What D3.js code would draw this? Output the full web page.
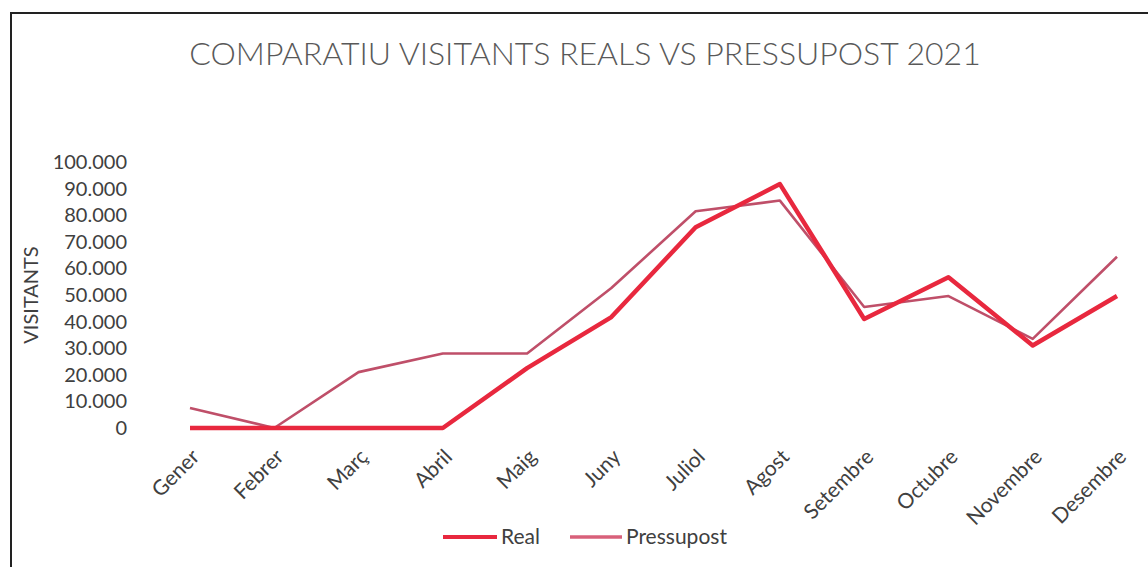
<!DOCTYPE html>
<html><head><meta charset="utf-8">
<script src="https://cdn.jsdelivr.net/npm/d3@7"></script>
<style>body{margin:0;background:#fff}svg{display:block}</style>
</head><body>
<svg id="c" width="1148" height="567"></svg>
<script>
const months = ["Gener","Febrer","Març","Abril","Maig","Juny","Juliol","Agost","Setembre","Octubre","Novembre","Desembre"];
const real = [0,0,0,0,22500,41700,75500,91700,41000,56700,31000,49600];
const pressupost = [7500,0,21000,28000,28000,52600,81500,85500,45500,49600,33500,64400];
const yTicks = [0,10000,20000,30000,40000,50000,60000,70000,80000,90000,100000];

const svg = d3.select("#c");
const font = "Lato, 'Open Sans', sans-serif";
svg.append("rect").attr("x",11).attr("y",13).attr("width",1150).attr("height",600)
  .attr("fill","#fff").attr("stroke","#222").attr("stroke-width",2);

const x = d3.scalePoint().domain(months).range([190,1117]);
const y = d3.scaleLinear().domain([0,100000]).range([428,162]);

svg.append("text").attr("x",585).attr("y",65).attr("text-anchor","middle")
  .attr("font-family",font).attr("font-weight",300).attr("font-size",32).attr("fill","#595959")
  .text("COMPARATIU VISITANTS REALS VS PRESSUPOST 2021");

const fmt = v => v===0 ? "0" : d3.format(",")(v).replace(/,/g,".");
const ya = svg.append("g").attr("transform","translate(135,0)")
  .call(d3.axisLeft(y).tickValues(yTicks).tickFormat(fmt).tickSize(0).tickPadding(8));
ya.select(".domain").remove();
ya.selectAll("text").attr("font-family",font).attr("font-size",20).attr("fill","#404040");

const xa = svg.append("g").attr("transform","translate(0,428)")
  .call(d3.axisBottom(x).tickSize(0));
xa.select(".domain").remove();
xa.selectAll("text").attr("font-family",font).attr("font-size",21).attr("fill","#404040")
  .attr("text-anchor","end").attr("dy",0)
  .attr("transform","translate(8,28) rotate(-45)");

svg.append("text").attr("transform","translate(38,295) rotate(-90)").attr("text-anchor","middle")
  .attr("font-family",font).attr("font-size",20).attr("fill","#404040").text("VISITANTS");

const line = d3.line().x((d,i)=>x(months[i])).y(d=>y(d));
svg.append("path").datum(pressupost).attr("d",line).attr("fill","none")
  .attr("stroke","#bf4f69").attr("stroke-width",2.6).attr("stroke-linejoin","round");
svg.append("path").datum(real).attr("d",line).attr("fill","none")
  .attr("stroke","#e8283e").attr("stroke-width",4.5).attr("stroke-linejoin","round");

const leg = [{name:"Real",c:"#e8283e",w:4,x1:443,x2:497},{name:"Pressupost",c:"#d8607a",w:3.5,x1:570,x2:622}];
leg.forEach(l=>{
  svg.append("line").attr("x1",l.x1).attr("x2",l.x2).attr("y1",537).attr("y2",537)
    .attr("stroke",l.c).attr("stroke-width",l.w);
  svg.append("text").attr("x",l.x2+4).attr("y",544).attr("font-family",font).attr("font-size",21)
    .attr("fill","#404040").text(l.name);
});
</script>
</body></html>
